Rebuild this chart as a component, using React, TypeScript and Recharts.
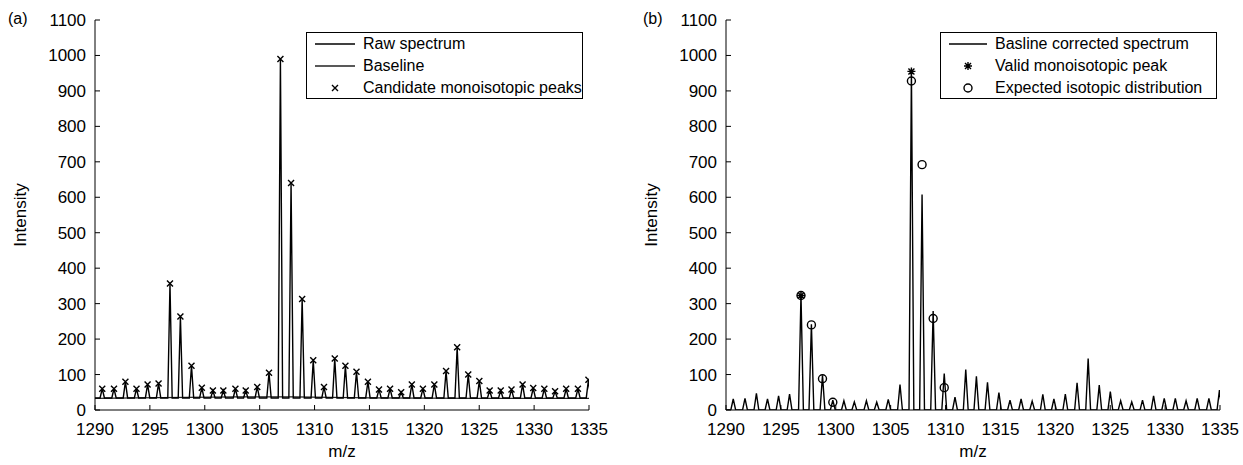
import { ComposedChart, Line, Scatter, XAxis, YAxis } from 'recharts';

// peak centres (m/z)
const peakMz = [
  1290.66, 1291.73, 1292.77, 1293.78, 1294.79, 1295.79, 1296.83, 1297.78, 1298.79, 1299.73,
  1300.74, 1301.69, 1302.79, 1303.73, 1304.78, 1305.85, 1306.89, 1307.86, 1308.87, 1309.88,
  1310.86, 1311.84, 1312.81, 1313.82, 1314.86, 1315.87, 1316.88, 1317.89, 1318.86, 1319.87,
  1320.91, 1321.98, 1322.99, 1324.0, 1325.01, 1325.95, 1326.96, 1327.94, 1328.95, 1329.92,
  1330.93, 1331.91, 1332.92, 1333.99, 1334.95,
];
// (a) raw spectrum peak tops = candidate monoisotopic peaks
const rawPeaks = [
  60, 60, 80, 60, 72, 75, 357, 264, 125, 63,
  55, 55, 60, 55, 65, 105, 990, 640, 313, 140,
  65, 145, 125, 108, 80, 58, 60, 50, 72, 60,
  72, 110, 177, 100, 82, 55, 55, 58, 72, 62,
  60, 53, 60, 60, 85,
];
// (b) baseline corrected peak tops
const correctedPeaks = [
  31, 33, 47, 31, 40, 45, 326, 242, 98, 28,
  26, 23, 26, 22, 30, 72, 955, 608, 279, 103,
  36, 114, 95, 78, 49, 28, 31, 25, 44, 31,
  45, 77, 145, 70, 52, 26, 23, 28, 40, 33,
  33, 26, 33, 33, 56,
];
const rawFloor = 34;
const baselineMz = [1290, 1296, 1303, 1308, 1315, 1325, 1335];
const baselineInt = [33, 35, 37, 37, 34, 33, 33];

const validMz = [1296.83, 1306.89];
const validInt = [323, 955];
const isoMz = [1296.83, 1297.78, 1298.79, 1299.73, 1306.89, 1307.86, 1308.87, 1309.88];
const isoInt = [323, 240, 88, 22, 928, 692, 258, 63];

const xTicks = [1290, 1295, 1300, 1305, 1310, 1315, 1320, 1325, 1330, 1335];
const yTicks = [0, 100, 200, 300, 400, 500, 600, 700, 800, 900, 1000, 1100];

const FONT = '"Liberation Sans", Arial, Helvetica, sans-serif';

function spectrum(heights: number[], floor: number, half: number) {
  const pts = [{ mz: 1289.5, y: floor }];
  peakMz.forEach((m, i) => {
    pts.push({ mz: m - half, y: floor }, { mz: m, y: heights[i] }, { mz: m + half, y: floor });
  });
  pts.push({ mz: 1335.5, y: floor });
  return pts;
}

const rawData = spectrum(rawPeaks, rawFloor, 0.2);
const correctedData = spectrum(correctedPeaks, 0, 0.22);
const baselineData = baselineMz.map((m, i) => ({ mz: m, y: baselineInt[i] }));
const candidateData = peakMz.map((m, i) => ({ mz: m, y: rawPeaks[i] }));
const validData = validMz.map((m, i) => ({ mz: m, y: validInt[i] }));
const isoData = isoMz.map((m, i) => ({ mz: m, y: isoInt[i] }));

const XMark = ({ cx, cy }: any) => (
  <path d={`M${cx - 3},${cy - 3}L${cx + 3},${cy + 3}M${cx - 3},${cy + 3}L${cx + 3},${cy - 3}`} stroke="#000" strokeWidth={1.4} fill="none" />
);
const StarMark = ({ cx, cy }: any) => (
  <path
    d={`M${cx - 4},${cy}L${cx + 4},${cy}M${cx},${cy - 4}L${cx},${cy + 4}M${cx - 3},${cy - 3}L${cx + 3},${cy + 3}M${cx - 3},${cy + 3}L${cx + 3},${cy - 3}`}
    stroke="#000" strokeWidth={1.4} fill="none"
  />
);
const CircleMark = ({ cx, cy }: any) => <circle cx={cx} cy={cy} r={4} fill="none" stroke="#000" strokeWidth={1.4} />;

const tickStyle = { fontSize: 17, fill: '#000', fontFamily: FONT };

const yTitle = ({ viewBox }: any) => {
  const x = viewBox.x + 20;
  const y = viewBox.y + viewBox.height / 2;
  return (
    <text x={x} y={y} transform={`rotate(-90, ${x}, ${y})`} textAnchor="middle" dominantBaseline="central" fontSize={17} fontFamily={FONT} fill="#000">
      Intensity
    </text>
  );
};
const xTitle = ({ viewBox }: any) => (
  <text x={viewBox.x + viewBox.width / 2} y={viewBox.y + 41} textAnchor="middle" dominantBaseline="central" fontSize={17} fontFamily={FONT} fill="#000">
    m/z
  </text>
);

function LegendBox({ left, top, width, iconW, rows }: { left: number; top: number; width: number; iconW: number; rows: { icon: string; text: string }[] }) {
  return (
    <div style={{ position: 'absolute', left, top, width, height: 67, border: '1px solid #000', background: '#fff', boxSizing: 'border-box', fontFamily: FONT, fontSize: 16 }}>
      {rows.map((r) => (
        <div key={r.text} style={{ display: 'flex', alignItems: 'center', height: 22 }}>
          <svg width={iconW + 16} height={22} style={{ flex: 'none' }}>
            {r.icon === 'line' && <line x1={8} x2={8 + iconW} y1={11} y2={11} stroke="#000" strokeWidth={1.3} />}
            {r.icon === 'grayline' && <line x1={8} x2={8 + iconW} y1={11} y2={11} stroke="#222" strokeWidth={1.3} />}
            {r.icon === 'x' && <XMark cx={8 + iconW / 2} cy={11} />}
            {r.icon === 'star' && <StarMark cx={8 + iconW / 2} cy={11} />}
            {r.icon === 'circle' && <CircleMark cx={8 + iconW / 2} cy={11} />}
          </svg>
          <span style={{ whiteSpace: 'nowrap', lineHeight: '22px' }}>{r.text}</span>
        </div>
      ))}
    </div>
  );
}

function axes() {
  return [
    <XAxis key="xb" xAxisId={0} dataKey="mz" type="number" domain={[1290, 1335]} ticks={xTicks} allowDataOverflow
      height={55} tickSize={-5} tickMargin={18} tick={tickStyle} stroke="#000" interval={0} label={{ content: xTitle }} />,
    <XAxis key="xt" xAxisId="top" orientation="top" dataKey="mz" type="number" domain={[1290, 1335]} ticks={xTicks} allowDataOverflow
      height={0} tickSize={-5} tickFormatter={() => ''} stroke="#000" interval={0} />,
    <YAxis key="yl" yAxisId={0} type="number" domain={[0, 1100]} ticks={yTicks} allowDataOverflow
      width={95} tickSize={-5} tickMargin={14} tick={tickStyle} stroke="#000" interval={0} label={{ content: yTitle }} />,
    <YAxis key="yr" yAxisId="right" orientation="right" type="number" domain={[0, 1100]} ticks={yTicks} allowDataOverflow
      width={0} tickSize={-5} tickFormatter={() => ''} stroke="#000" interval={0} />,
  ];
}

export default function App() {
  return (
    <div style={{ position: 'relative', width: 1243, height: 465, background: '#fff', overflow: 'hidden', fontFamily: FONT }}>
      <style>{'body{margin:0}'}</style>
      <div style={{ position: 'absolute', left: 8, top: 10, fontSize: 16 }}>(a)</div>
      <div style={{ position: 'absolute', left: 643, top: 10, fontSize: 16 }}>(b)</div>

      <div style={{ position: 'absolute', left: 0, top: 0 }}>
        <ComposedChart width={620} height={465} margin={{ top: 20, right: 31, bottom: 0, left: 0 }}>
          {axes()}
          <Line data={baselineData} dataKey="y" type="linear" dot={false} stroke="#222" strokeWidth={1.3} isAnimationActive={false} />
          <Line data={rawData} dataKey="y" type="linear" dot={false} stroke="#000" strokeWidth={1.4} isAnimationActive={false} />
          <Scatter data={candidateData} dataKey="y" shape={(p: any) => <XMark cx={p.cx} cy={p.cy} />} isAnimationActive={false} />
        </ComposedChart>
      </div>

      <div style={{ position: 'absolute', left: 631, top: 0 }}>
        <ComposedChart width={612} height={465} margin={{ top: 20, right: 23, bottom: 0, left: 0 }}>
          {axes()}
          <Line data={correctedData} dataKey="y" type="linear" dot={false} stroke="#000" strokeWidth={1.4} isAnimationActive={false} />
          <Scatter data={isoData} dataKey="y" shape={(p: any) => <CircleMark cx={p.cx} cy={p.cy} />} isAnimationActive={false} />
          <Scatter data={validData} dataKey="y" shape={(p: any) => <StarMark cx={p.cx} cy={p.cy} />} isAnimationActive={false} />
        </ComposedChart>
      </div>

      <LegendBox left={306} top={32} width={277} iconW={40} rows={[
        { icon: 'line', text: 'Raw spectrum' },
        { icon: 'grayline', text: 'Baseline' },
        { icon: 'x', text: 'Candidate monoisotopic peaks' },
      ]} />
      <LegendBox left={940} top={32} width={277} iconW={38} rows={[
        { icon: 'line', text: 'Basline corrected spectrum' },
        { icon: 'star', text: 'Valid monoisotopic peak' },
        { icon: 'circle', text: 'Expected isotopic distribution' },
      ]} />
    </div>
  );
}
